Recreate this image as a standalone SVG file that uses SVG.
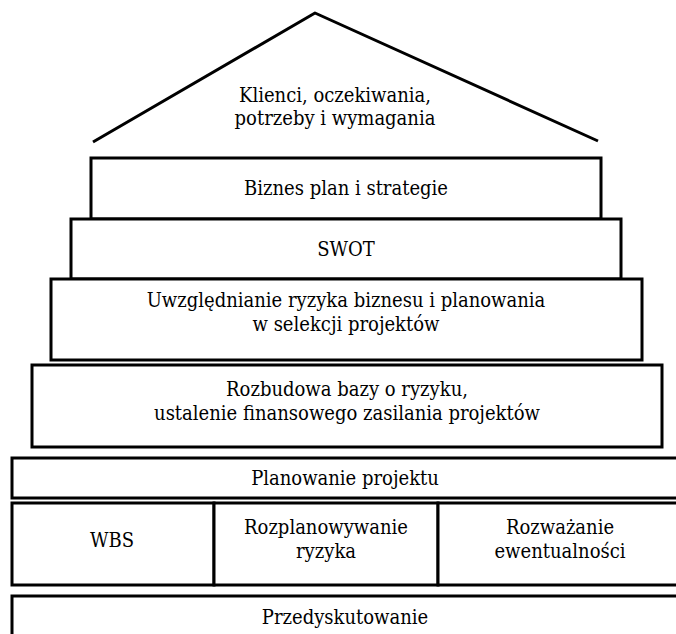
<svg xmlns="http://www.w3.org/2000/svg" width="676" height="634" viewBox="0 0 676 634">
<style>
.box{fill:#fff;stroke:#000;stroke-width:3}
.ln{fill:none;stroke:#000;stroke-width:3;stroke-linejoin:round}
.t{font-family:'DejaVu Serif','Liberation Serif',serif;font-stretch:condensed;font-size:20px;fill:#000;text-anchor:middle}
</style>
<rect width="676" height="634" fill="#fff"/>
<g id="roof">
<polyline class="ln" points="93,142 315,13 598,141"/>
<text class="t" x="335" y="102">Klienci, oczekiwania,</text>
<text class="t" x="335" y="125">potrzeby i wymagania</text>
</g>
<g id="biznes">
<rect class="box" x="91" y="158" width="510" height="61"/>
<text class="t" x="346" y="195">Biznes plan i strategie</text>
</g>
<g id="swot">
<rect class="box" x="71" y="219" width="550" height="60"/>
<text class="t" x="346" y="256">SWOT</text>
</g>
<g id="uwzglednianie">
<rect class="box" x="51" y="279" width="591" height="81"/>
<text class="t" x="346" y="307">Uwzględnianie ryzyka biznesu i planowania</text>
<text class="t" x="346" y="331">w selekcji projektów</text>
</g>
<g id="rozbudowa">
<rect class="box" x="32" y="365" width="630" height="82"/>
<text class="t" x="347" y="396">Rozbudowa bazy o ryzyku,</text>
<text class="t" x="347" y="420">ustalenie finansowego zasilania projektów</text>
</g>
<g id="planowanie">
<rect class="box" x="12" y="458" width="670" height="40"/>
<text class="t" x="345" y="485">Planowanie projektu</text>
</g>
<g id="wbs">
<rect class="box" x="12" y="503" width="202" height="82"/>
<text class="t" x="112" y="547">WBS</text>
</g>
<g id="rozplanowywanie">
<rect class="box" x="214" y="503" width="224" height="82"/>
<text class="t" x="326" y="534">Rozplanowywanie</text>
<text class="t" x="326" y="558">ryzyka</text>
</g>
<g id="rozwazanie">
<rect class="box" x="438" y="503" width="244" height="82"/>
<text class="t" x="560" y="534">Rozważanie</text>
<text class="t" x="560" y="558">ewentualności</text>
</g>
<g id="przedyskutowanie">
<rect class="box" x="12" y="596" width="670" height="50"/>
<text class="t" x="345" y="624">Przedyskutowanie</text>
</g>
<g id="connectors"></g>
</svg>
